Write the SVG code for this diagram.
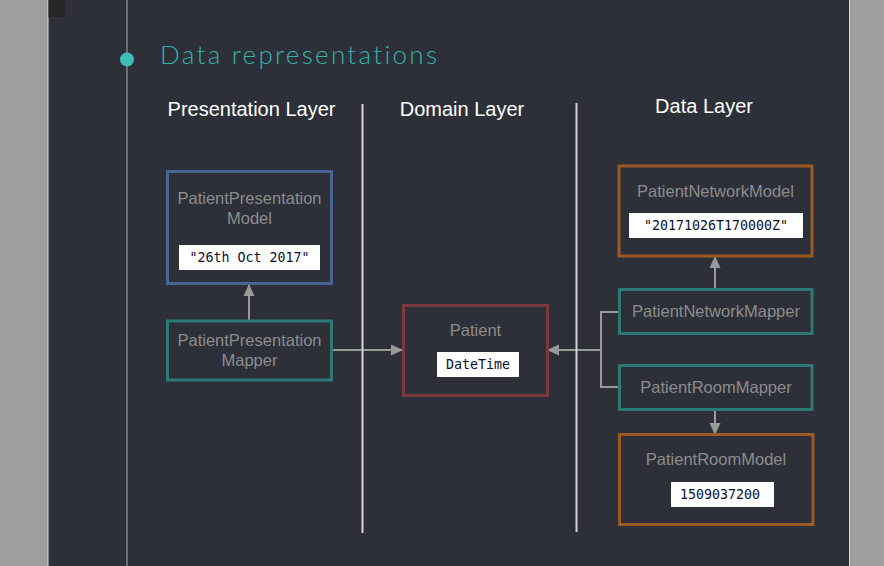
<svg xmlns="http://www.w3.org/2000/svg" width="884" height="566" viewBox="0 0 884 566">
<style>
.heading{font-family:"Liberation Sans",Arial,sans-serif;font-size:20px;fill:#ffffff;text-anchor:middle}
.lbl{font-family:"Liberation Sans",Arial,sans-serif;font-size:16.5px;fill:#8c8c8c;text-anchor:middle}
.mono{font-family:"DejaVu Sans Mono",monospace;font-size:13.3px;fill:#0b1030;text-anchor:middle}
.box{fill:none;stroke-width:3}
.blue{stroke:#4a6494}
.teal{stroke:#2e7874}
.red{stroke:#7a3a3d}
.orange{stroke:#9a5a22}
.val{fill:#ffffff}
.conn{fill:none;stroke:#9a9a9a;stroke-width:2}
.sep{stroke:#d4d4d4;stroke-width:2}
</style>
<defs>
<marker id="ah" viewBox="0 0 12 12" refX="11" refY="6" markerWidth="12" markerHeight="12" markerUnits="userSpaceOnUse" orient="auto">
<path d="M0,0.5 L12,6 L0,11.5 z" fill="#9a9a9a"/>
</marker>
</defs>
<rect x="0" y="0" width="884" height="566" fill="#9e9e9e"/>
<rect x="48" y="0" width="801" height="566" fill="#2d3039"/>
<line x1="48" y1="0" x2="48" y2="566" stroke="#d8d8d8" stroke-width="1"/>
<line x1="849.5" y1="0" x2="849.5" y2="566" stroke="#d8d8d8" stroke-width="1"/>
<rect x="48.5" y="0" width="17" height="17" fill="#272727"/>
<line x1="127" y1="0" x2="127" y2="566" stroke="#6b6e78" stroke-width="2"/>
<circle cx="127" cy="59.5" r="7" fill="#3dbdb4"/>
<text x="160" y="64" font-family="Lato,'Open Sans',sans-serif" font-weight="300" font-size="26" fill="#35b3aa" letter-spacing="2" textLength="279">Data representations</text>

<text class="heading" x="251.5" y="116">Presentation Layer</text>
<text class="heading" x="462" y="116">Domain Layer</text>
<text class="heading" x="704" y="113">Data Layer</text>

<g id="connectors">
<line class="conn" x1="249" y1="320" x2="249" y2="285" marker-end="url(#ah)"/>
<line class="conn" x1="332" y1="350" x2="402" y2="350" marker-end="url(#ah)"/>
<polyline class="conn" points="620,312 601,312 601,387 620,387"/>
<line class="conn" x1="601" y1="350" x2="548" y2="350" marker-end="url(#ah)"/>
<line class="conn" x1="715" y1="289" x2="715" y2="257" marker-end="url(#ah)"/>
<line class="conn" x1="715" y1="410" x2="715" y2="434" marker-end="url(#ah)"/>
</g>

<g id="separators">
<line class="sep" x1="362.5" y1="104" x2="362.5" y2="533"/>
<line class="sep" x1="576.5" y1="103" x2="576.5" y2="532"/>
</g>

<g id="PatientPresentationModel">
<rect class="box blue" x="167.5" y="171.5" width="164" height="112"/>
<text class="lbl" x="249.5" y="204">PatientPresentation</text>
<text class="lbl" x="249.5" y="224">Model</text>
<rect class="val" x="179" y="245" width="141" height="25"/>
<text class="mono" x="249.5" y="262">"26th Oct 2017"</text>
</g>

<g id="PatientPresentationMapper">
<rect class="box teal" x="167.5" y="321" width="164" height="59"/>
<text class="lbl" x="249.5" y="346">PatientPresentation</text>
<text class="lbl" x="249.5" y="366">Mapper</text>
</g>

<g id="Patient">
<rect class="box red" x="403.5" y="305.5" width="144" height="90"/>
<text class="lbl" x="475.5" y="336">Patient</text>
<rect class="val" x="437" y="352" width="82" height="25"/>
<text class="mono" x="478" y="369">DateTime</text>
</g>

<g id="PatientNetworkModel">
<rect class="box orange" x="619" y="166" width="193" height="90"/>
<text class="lbl" x="715.5" y="197">PatientNetworkModel</text>
<rect class="val" x="629" y="213" width="174" height="25"/>
<text class="mono" x="716" y="230">"20171026T170000Z"</text>
</g>

<g id="PatientNetworkMapper">
<rect class="box teal" x="619.5" y="289.5" width="192.5" height="44"/>
<text class="lbl" x="716" y="317">PatientNetworkMapper</text>
</g>

<g id="PatientRoomMapper">
<rect class="box teal" x="619.5" y="365.5" width="192.5" height="44"/>
<text class="lbl" x="716" y="393">PatientRoomMapper</text>
</g>

<g id="PatientRoomModel">
<rect class="box orange" x="619.5" y="434.5" width="193.5" height="90"/>
<text class="lbl" x="716" y="465">PatientRoomModel</text>
<rect class="val" x="671" y="482" width="103" height="25"/>
<text class="mono" x="720" y="499">1509037200</text>
</g>
</svg>
